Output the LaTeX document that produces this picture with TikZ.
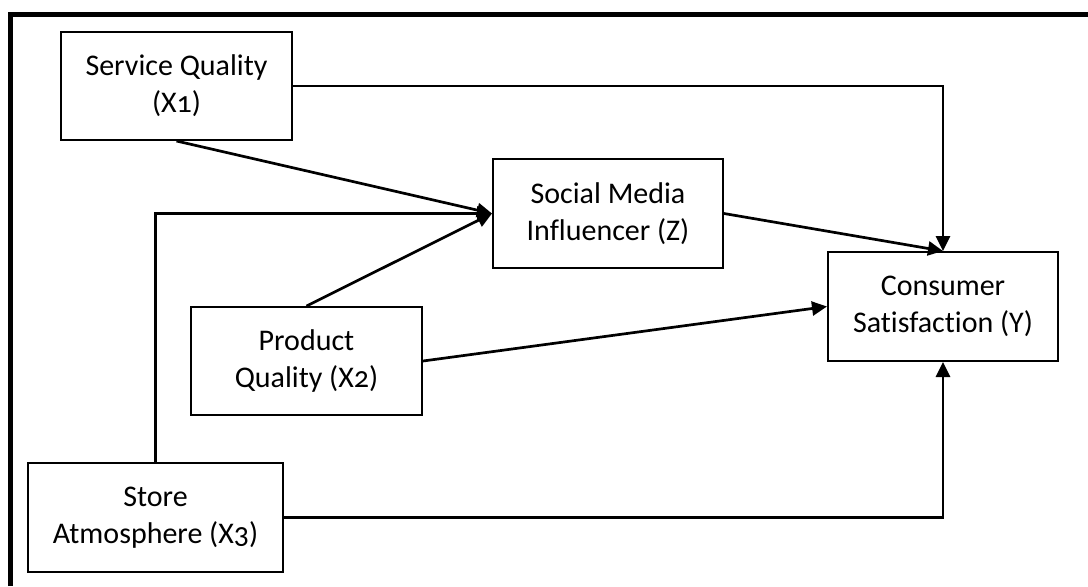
\documentclass[tikz,border=0pt]{standalone}
\usepackage{fontspec}
\setmainfont{Carlito}[Numbers=OldStyle,Ligatures=NoCommon]
\usetikzlibrary{arrows.meta}
\begin{document}
\begin{tikzpicture}[x=0.5pt,y=-0.5pt,
  box/.style={draw, line width=1pt, align=center, inner sep=0pt,
    font=\fontsize{15}{18.5}\selectfont},
  conn/.style={line width=1.35pt},
  arr/.style={conn, -{Triangle[length=7.5pt,width=7pt]}}]
\useasboundingbox (0,0) rectangle (1088,586);
\draw[line width=2.5pt] (10,586) -- (10,14.5) -- (1088,14.5);
\node[box, minimum width=115.5pt, minimum height=54pt] (x1) at (176.5,86) {Service Quality\\(X1)};
\node[box, minimum width=115pt, minimum height=54.5pt] (z) at (608,213.5) {Social Media\\Influencer (Z)};
\node[box, minimum width=115pt, minimum height=54.5pt] (y) at (943,306.5) {Consumer\\Satisfaction (Y)};
\node[box, minimum width=115.5pt, minimum height=54pt] (x2) at (306.5,361) {Product\\Quality (X2)};
\node[box, minimum width=127.5pt, minimum height=54.5pt] (x3) at (155.5,517.5) {Store\\Atmosphere (X3)};
\draw[arr] (x1.east) -| (y.north);
\draw[arr] (x1.south) -- (z.west);
\draw[arr] (x3.north) |- (z.west);
\draw[arr] (x2.north) -- (z.west);
\draw[arr] (z.east) -- (y.north);
\draw[arr] (x2.east) -- (y.west);
\draw[arr] (x3.east) -| (y.south);
\end{tikzpicture}
\end{document}
